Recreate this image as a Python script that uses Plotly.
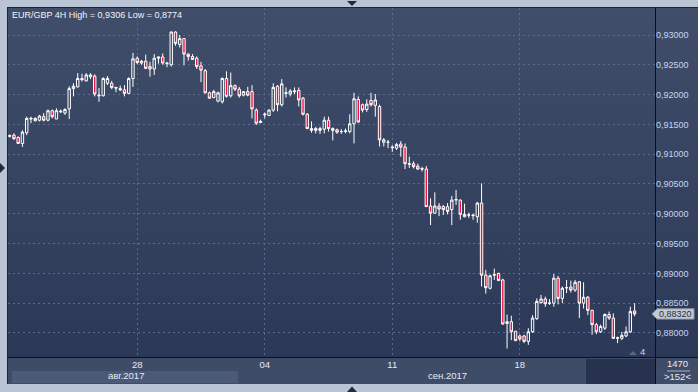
import base64
import plotly.graph_objects as go

# ---------------- data (EUR/GBP, 4H candles) ----------------
opens = [0.9130, 0.9132, 0.9128, 0.9118, 0.9136, 0.9159, 0.9156, 0.9157, 0.9163, 0.9157,
         0.9173, 0.9159, 0.9171, 0.9169, 0.9176, 0.9210, 0.9213, 0.9227, 0.9223, 0.9230,
         0.9231, 0.9198, 0.9198, 0.9219, 0.9219, 0.9212, 0.9210, 0.9208, 0.9202, 0.9227,
         0.9261, 0.9253, 0.9256, 0.9247, 0.9243, 0.9261, 0.9263, 0.9253, 0.9250, 0.9305,
         0.9284, 0.9294, 0.9268, 0.9264, 0.9261, 0.9248, 0.9240, 0.9203, 0.9195, 0.9189,
         0.9188, 0.9227, 0.9198, 0.9215, 0.9209, 0.9199, 0.9205, 0.9205, 0.9174, 0.9153,
         0.9166, 0.9165, 0.9174, 0.9214, 0.9183, 0.9202, 0.9201, 0.9205, 0.9207, 0.9194,
         0.9167, 0.9143, 0.9140, 0.9143, 0.9142, 0.9157, 0.9143, 0.9141, 0.9138, 0.9138,
         0.9138, 0.9151, 0.9192, 0.9183, 0.9175, 0.9190, 0.9182, 0.9180, 0.9120, 0.9120,
         0.9112, 0.9110, 0.9117, 0.9112, 0.9084, 0.9084, 0.9080, 0.9076, 0.9075, 0.9013,
         0.9001, 0.9013, 0.9012, 0.9012, 0.9007, 0.9023, 0.9023, 0.8995, 0.8998, 0.8998,
         0.8995, 0.9018, 0.8897, 0.8875, 0.8897, 0.8900, 0.8889, 0.8816, 0.8819, 0.8803,
         0.8795, 0.8795, 0.8786, 0.8802, 0.8824, 0.8851, 0.8857, 0.8850, 0.8850, 0.8892,
         0.8858, 0.8876, 0.8877, 0.8872, 0.8886, 0.8850, 0.8860, 0.8838, 0.8814, 0.8802,
         0.8808, 0.8831, 0.8825, 0.8791, 0.8791, 0.8795, 0.8802, 0.8837]
highs = [0.9133, 0.9135, 0.9130, 0.9140, 0.9163, 0.9163, 0.9162, 0.9166, 0.9169, 0.9175,
         0.9175, 0.9177, 0.9175, 0.9177, 0.9214, 0.9219, 0.9236, 0.9235, 0.9236, 0.9236,
         0.9234, 0.9211, 0.9229, 0.9231, 0.9223, 0.9213, 0.9215, 0.9216, 0.9229, 0.9270,
         0.9264, 0.9258, 0.9267, 0.9255, 0.9268, 0.9264, 0.9269, 0.9255, 0.9306, 0.9306,
         0.9300, 0.9295, 0.9269, 0.9268, 0.9264, 0.9255, 0.9243, 0.9205, 0.9208, 0.9205,
         0.9229, 0.9239, 0.9237, 0.9217, 0.9213, 0.9206, 0.9213, 0.9216, 0.9177, 0.9158,
         0.9170, 0.9175, 0.9219, 0.9216, 0.9226, 0.9212, 0.9209, 0.9212, 0.9212, 0.9196,
         0.9169, 0.9155, 0.9146, 0.9146, 0.9163, 0.9163, 0.9145, 0.9143, 0.9142, 0.9143,
         0.9167, 0.9203, 0.9197, 0.9185, 0.9192, 0.9203, 0.9201, 0.9183, 0.9127, 0.9124,
         0.9115, 0.9119, 0.9122, 0.9118, 0.9096, 0.9088, 0.9084, 0.9079, 0.9080, 0.9026,
         0.9036, 0.9018, 0.9015, 0.9018, 0.9030, 0.9040, 0.9024, 0.9017, 0.9002, 0.9000,
         0.9020, 0.9051, 0.8906, 0.8898, 0.8908, 0.8901, 0.8891, 0.8831, 0.8829, 0.8803,
         0.8797, 0.8797, 0.8808, 0.8830, 0.8858, 0.8864, 0.8861, 0.8857, 0.8899, 0.8896,
         0.8878, 0.8889, 0.8888, 0.8889, 0.8887, 0.8885, 0.8862, 0.8839, 0.8817, 0.8814,
         0.8833, 0.8836, 0.8833, 0.8794, 0.8802, 0.8811, 0.8844, 0.8850]
lows = [0.9128, 0.9124, 0.9117, 0.9112, 0.9132, 0.9152, 0.9155, 0.9155, 0.9155, 0.9155,
        0.9160, 0.9159, 0.9169, 0.9166, 0.9159, 0.9197, 0.9212, 0.9222, 0.9222, 0.9226,
        0.9197, 0.9188, 0.9197, 0.9216, 0.9209, 0.9204, 0.9206, 0.9197, 0.9201, 0.9213,
        0.9251, 0.9250, 0.9243, 0.9230, 0.9233, 0.9252, 0.9250, 0.9246, 0.9247, 0.9282,
        0.9279, 0.9249, 0.9257, 0.9258, 0.9243, 0.9221, 0.9202, 0.9193, 0.9194, 0.9187,
        0.9185, 0.9195, 0.9195, 0.9206, 0.9195, 0.9197, 0.9197, 0.9160, 0.9149, 0.9152,
        0.9160, 0.9164, 0.9171, 0.9172, 0.9180, 0.9195, 0.9197, 0.9201, 0.9180, 0.9165,
        0.9142, 0.9136, 0.9135, 0.9134, 0.9135, 0.9138, 0.9123, 0.9134, 0.9134, 0.9135,
        0.9135, 0.9118, 0.9153, 0.9170, 0.9171, 0.9180, 0.9163, 0.9113, 0.9113, 0.9110,
        0.9104, 0.9107, 0.9096, 0.9075, 0.9077, 0.9076, 0.9074, 0.9071, 0.9012, 0.8981,
        0.9000, 0.8996, 0.8998, 0.8999, 0.8981, 0.9015, 0.8990, 0.8994, 0.8993, 0.8990,
        0.8985, 0.8878, 0.8866, 0.8873, 0.8889, 0.8887, 0.8814, 0.8774, 0.8788, 0.8787,
        0.8786, 0.8783, 0.8780, 0.8800, 0.8822, 0.8849, 0.8844, 0.8847, 0.8844, 0.8848,
        0.8850, 0.8867, 0.8868, 0.8869, 0.8825, 0.8841, 0.8830, 0.8797, 0.8798, 0.8800,
        0.8805, 0.8822, 0.8790, 0.8783, 0.8788, 0.8793, 0.8800, 0.8828]
closes = [0.9131, 0.9126, 0.9118, 0.9137, 0.9160, 0.9160, 0.9160, 0.9164, 0.9157, 0.9173,
          0.9163, 0.9173, 0.9172, 0.9175, 0.9210, 0.9214, 0.9227, 0.9225, 0.9233, 0.9233,
          0.9201, 0.9199, 0.9227, 0.9227, 0.9212, 0.9211, 0.9208, 0.9202, 0.9227, 0.9260,
          0.9254, 0.9256, 0.9244, 0.9243, 0.9261, 0.9263, 0.9253, 0.9252, 0.9305, 0.9286,
          0.9294, 0.9268, 0.9264, 0.9259, 0.9247, 0.9241, 0.9203, 0.9194, 0.9205, 0.9203,
          0.9227, 0.9197, 0.9215, 0.9209, 0.9198, 0.9205, 0.9199, 0.9176, 0.9152, 0.9155,
          0.9167, 0.9174, 0.9212, 0.9183, 0.9218, 0.9203, 0.9206, 0.9206, 0.9191, 0.9167,
          0.9143, 0.9140, 0.9143, 0.9140, 0.9157, 0.9143, 0.9140, 0.9137, 0.9138, 0.9139,
          0.9151, 0.9193, 0.9154, 0.9174, 0.9184, 0.9183, 0.9191, 0.9124, 0.9124, 0.9120,
          0.9111, 0.9116, 0.9112, 0.9084, 0.9083, 0.9079, 0.9075, 0.9075, 0.9012, 0.9001,
          0.9013, 0.9008, 0.9007, 0.9004, 0.9023, 0.9024, 0.8999, 0.8999, 0.8998, 0.8997,
          0.9018, 0.8897, 0.8876, 0.8896, 0.8898, 0.8888, 0.8815, 0.8819, 0.8802, 0.8787,
          0.8790, 0.8786, 0.8802, 0.8825, 0.8853, 0.8857, 0.8849, 0.8850, 0.8892, 0.8858,
          0.8875, 0.8876, 0.8872, 0.8885, 0.8850, 0.8860, 0.8838, 0.8814, 0.8802, 0.8811,
          0.8831, 0.8825, 0.8791, 0.8792, 0.8796, 0.8802, 0.8836, 0.8832]
candle_index = list(range(len(closes)))

day_tick_index = [30, 60, 90, 120]
day_tick_labels = ["28", "04", "11", "18"]
price_ticks = [0.880, 0.885, 0.890, 0.895, 0.900, 0.905, 0.910, 0.915, 0.920, 0.925, 0.930]
price_tick_labels = ["0,88000", "0,88500", "0,89000", "0,89500", "0,90000", "0,90500",
                     "0,91000", "0,91500", "0,92000", "0,92500", "0,93000"]
title_text = "EUR/GBP 4H High = 0,9306 Low = 0,8774"
last_price_text = "0,88320"
months = ["авг.2017", "сен.2017"]

# ---------------- geometry helpers (pixel -> paper) ----------------
W, H = 698, 392
L, R, T, B = 8, 43, 8, 35
PW, PH = W - L - R, H - T - B


def px(x):
    return (x - L) / PW


def py(y):
    return (H - B - y) / PH


FONT = "Liberation Sans, Arial, sans-serif"
FRAME = "#b9c5d5"
DARK_LINE = "#0b0f19"

fig = go.Figure()
fig.add_trace(go.Candlestick(
    x=candle_index, open=opens, high=highs, low=lows, close=closes,
    increasing=dict(line=dict(color="white", width=1), fillcolor="rgba(0,0,0,0)"),
    decreasing=dict(line=dict(color="white", width=1), fillcolor="#f0103c"),
    whiskerwidth=0, hoverinfo="skip", showlegend=False,
))

# gradient background via inline SVG
svg = ('<svg xmlns="http://www.w3.org/2000/svg" width="690" height="349" preserveAspectRatio="none">'
       '<defs><linearGradient id="g" x1="0" y1="0" x2="0" y2="1">'
       '<stop offset="0" stop-color="#414e6a"/><stop offset="1" stop-color="#2b3857"/>'
       '</linearGradient></defs><rect width="690" height="349" fill="url(#g)"/></svg>')
src = "data:image/svg+xml;base64," + base64.b64encode(svg.encode()).decode()

shapes = []
# date area background
shapes.append(dict(type="rect", xref="paper", yref="paper", x0=px(8), x1=px(698), y0=py(357), y1=py(384),
                   fillcolor="#3f4c67", line=dict(width=0), layer="below"))
shapes.append(dict(type="rect", xref="paper", yref="paper", x0=px(12), x1=px(238), y0=py(371), y1=py(383),
                   fillcolor="#4a5a77", line=dict(width=0), layer="below"))
shapes.append(dict(type="rect", xref="paper", yref="paper", x0=px(586), x1=px(655), y0=py(359), y1=py(384),
                   fillcolor="#27334e", line=dict(width=0), layer="below"))
# dark separator lines
shapes.append(dict(type="line", xref="paper", yref="paper", x0=px(8), x1=px(698), y0=py(357.5), y1=py(357.5),
                   line=dict(color=DARK_LINE, width=1)))
shapes.append(dict(type="line", xref="paper", yref="paper", x0=px(655.5), x1=px(655.5), y0=py(8), y1=py(384),
                   line=dict(color=DARK_LINE, width=1)))
shapes.append(dict(type="line", xref="paper", yref="paper", x0=px(7), x1=px(698), y0=py(7.5), y1=py(7.5),
                   line=dict(color="#1c2536", width=1)))
shapes.append(dict(type="line", xref="paper", yref="paper", x0=px(7.5), x1=px(7.5), y0=py(7), y1=py(384),
                   line=dict(color="#1c2536", width=1)))
# navigation triangles in frame


def tri(points, color):
    d = "M " + " L ".join(f"{px(a):.5f},{py(b):.5f}" for a, b in points) + " Z"
    return dict(type="path", xref="paper", yref="paper", path=d, fillcolor=color, line=dict(width=0))


shapes.append(tri([(347, 1), (357, 1), (352, 6)], "#1f2a3d"))
shapes.append(tri([(0, 163), (0, 173), (5, 168)], "#1f2a3d"))
shapes.append(tri([(347, 392), (357, 392), (352, 386.5)], "#1f2a3d"))
shapes.append(tri([(629, 355), (637, 355), (633, 351)], "#5b6782"))
# separator line in bottom-right box
shapes.append(dict(type="line", xref="paper", yref="paper", x0=px(667), x1=px(690), y0=py(371), y1=py(371),
                   line=dict(color="#9fb2cc", width=1)))
# current price marker (arrow box)
lp = closes[-1]
hh = 5.2 / PH * (0.93453 - 0.87597)
d = (f"M {px(652):.5f},{lp:.5f} L {px(657):.5f},{lp + hh:.5f} L {px(694):.5f},{lp + hh:.5f} "
     f"L {px(694):.5f},{lp - hh:.5f} L {px(657):.5f},{lp - hh:.5f} Z")
shapes.append(dict(type="path", xref="paper", yref="y", path=d, fillcolor="#c3c8d1",
                   line=dict(color="#8b93a3", width=1)))

annotations = [
    dict(text=title_text, x=px(10), y=py(15), xref="paper", yref="paper", xanchor="left", yanchor="middle",
         showarrow=False, font=dict(family=FONT, size=9, color="#f2f4f8")),
    dict(text=months[0], x=px(126), y=py(375.5), xref="paper", yref="paper", xanchor="center", yanchor="middle",
         showarrow=False, font=dict(family=FONT, size=9.5, color="#e4ebf5")),
    dict(text=months[1], x=px(447), y=py(375.5), xref="paper", yref="paper", xanchor="center", yanchor="middle",
         showarrow=False, font=dict(family=FONT, size=9.5, color="#e4ebf5")),
    dict(text="1470", x=px(677), y=py(363.5), xref="paper", yref="paper", xanchor="center", yanchor="middle",
         showarrow=False, font=dict(family=FONT, size=9.5, color="#e4ebf5")),
    dict(text="&gt;152&lt;", x=px(677), y=py(376.5), xref="paper", yref="paper", xanchor="center",
         yanchor="middle", showarrow=False, font=dict(family=FONT, size=9.5, color="#e4ebf5")),
    dict(text="4", x=px(642), y=py(351.5), xref="paper", yref="paper", xanchor="center", yanchor="middle",
         showarrow=False, font=dict(family=FONT, size=9.5, color="#c8d8f0")),
    dict(text=last_price_text, x=px(675.5), y=lp, xref="paper", yref="y", xanchor="center", yanchor="middle",
         showarrow=False, font=dict(family=FONT, size=9, color="#263044")),
]

fig.update_layout(
    width=W, height=H,
    margin=dict(l=L, r=R, t=T, b=B, pad=0),
    paper_bgcolor=FRAME,
    plot_bgcolor="rgba(0,0,0,0)",
    boxgap=0.2,
    images=[dict(source=src, xref="paper", yref="paper", x=px(8), y=py(8), sizex=px(698) - px(8),
                 sizey=py(8) - py(357), sizing="stretch", xanchor="left", yanchor="top", layer="below")],
    shapes=shapes,
    annotations=annotations,
    showlegend=False,
    xaxis=dict(range=[-0.4, 151.8], tickmode="array", tickvals=day_tick_index, ticktext=day_tick_labels,
               showgrid=True, gridcolor="#5b6b8c", griddash="2px,3px", gridwidth=1,
               zeroline=False, showline=False, ticks="", rangeslider=dict(visible=False),
               tickfont=dict(family=FONT, size=9.5, color="#e4ebf5"), fixedrange=True),
    yaxis=dict(range=[0.87597, 0.93453], side="right", tickmode="array", tickvals=price_ticks,
               ticktext=price_tick_labels, showgrid=True, gridcolor="#5b6b8c", griddash="2px,3px",
               gridwidth=1, zeroline=False, showline=False, ticks="",
               tickfont=dict(family=FONT, size=9, color="#c6d6ee"), fixedrange=True),
)

fig.write_html("out.html")
